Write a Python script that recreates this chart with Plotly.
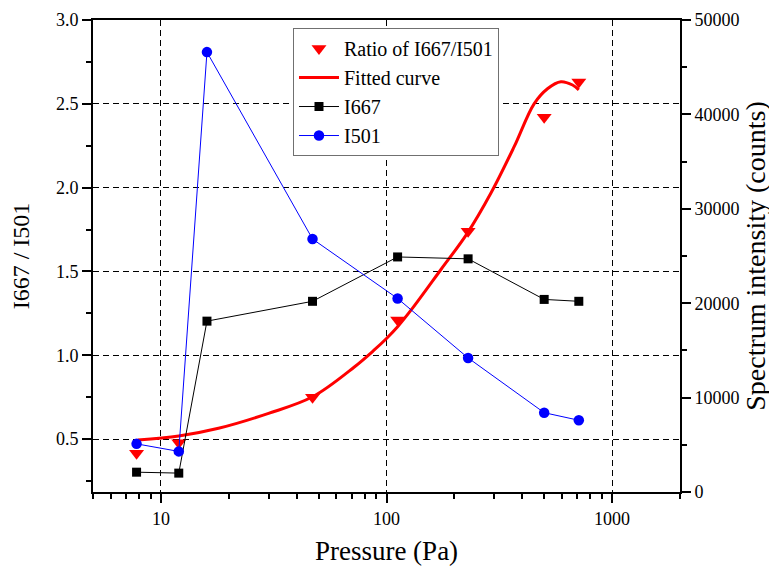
import math
import plotly.graph_objects as go

# Data
pressure = [7.8, 12, 16, 47, 112, 230, 500, 712]
i667 = [2100, 2000, 18100, 20200, 24900, 24700, 20400, 20200]
i501 = [5100, 4300, 46600, 26800, 20500, 14200, 8400, 7600]

ratio_pressure = [7.8, 12, 47, 112, 230, 500, 712]
ratio_values = [0.415, 0.478, 0.75, 1.21, 1.74, 2.42, 2.63]

fit_pressure = [7.9, 12, 18, 30, 47, 72, 88, 100, 112, 132, 174, 228, 290, 368, 451, 517, 593, 668, 712]
fit_values = [0.494, 0.518, 0.564, 0.653, 0.752, 0.93, 1.03, 1.10, 1.17, 1.29, 1.51, 1.727, 1.966, 2.244, 2.50, 2.59, 2.632, 2.612, 2.583]

x_tickvals = [10, 100, 1000]
x_ticktext = ["10", "100", "1000"]

FONT = "Liberation Serif"

fig = go.Figure()

fig.add_trace(go.Scatter(
    x=ratio_pressure, y=ratio_values, mode="markers", name="Ratio of I667/I501",
    marker=dict(symbol="triangle-down", size=13, color="#ff0000"),
    yaxis="y",
))
fig.add_trace(go.Scatter(
    x=fit_pressure, y=fit_values, mode="lines", name="Fitted curve",
    line=dict(color="#ff0000", width=3, shape="spline", smoothing=1.0),
    yaxis="y",
))
fig.add_trace(go.Scatter(
    x=pressure, y=i667, mode="lines+markers", name="I667",
    line=dict(color="#000000", width=1),
    marker=dict(symbol="square", size=9, color="#000000"),
    yaxis="y2",
))
fig.add_trace(go.Scatter(
    x=pressure, y=i501, mode="lines+markers", name="I501",
    line=dict(color="#0000ff", width=1),
    marker=dict(symbol="circle", size=10.5, color="#0000ff"),
    yaxis="y2",
))

# page body adds an 8px offset, so the figure is placed accordingly
fig.update_layout(
    width=769, height=559,
    margin=dict(l=85, r=97, t=12, b=75, pad=0, autoexpand=False),
    paper_bgcolor="white", plot_bgcolor="white",
    font=dict(family=FONT, size=18, color="black"),
    showlegend=True,
    legend=dict(
        x=0.3407, y=0.983, xanchor="left", yanchor="top",
        bgcolor="white", bordercolor="#707070", borderwidth=1,
        font=dict(family=FONT, size=20, color="black"),
        tracegroupgap=0, itemwidth=40,
    ),
    xaxis=dict(
        type="log", range=[math.log10(5), math.log10(2000)],
        automargin=False,
        tickmode="array", tickvals=x_tickvals, ticktext=x_ticktext,
        ticks="outside", ticklen=9, tickwidth=2, tickcolor="black",
        showline=True, linecolor="black", linewidth=2, mirror=True,
        showgrid=True, gridcolor="black", gridwidth=1, griddash="6px,4px",
        zeroline=False,
        minor=dict(ticks="outside", ticklen=5, tickwidth=2, tickcolor="black",
                   dtick="D1", showgrid=False),
        title=dict(text="Pressure (Pa)", font=dict(family=FONT, size=27), standoff=14),
        tickfont=dict(family=FONT, size=18),
    ),
    yaxis=dict(
        range=[0.184, 3.0], automargin=False,
        tick0=0, dtick=0.5, tickformat=".1f",
        ticks="outside", ticklen=9, tickwidth=2, tickcolor="black",
        showline=True, linecolor="black", linewidth=2,
        showgrid=True, gridcolor="black", gridwidth=1, griddash="6px,4px",
        zeroline=False,
        minor=dict(ticks="outside", ticklen=5, tickwidth=2, tickcolor="black",
                   dtick=0.25, tick0=0, showgrid=False),
        title=dict(text="I667 / I501", font=dict(family=FONT, size=24), standoff=20),
        tickfont=dict(family=FONT, size=18),
    ),
    yaxis2=dict(
        overlaying="y", side="right", anchor="x", automargin=False,
        range=[0, 50000], tick0=0, dtick=10000, tickformat="d",
        ticks="outside", ticklen=9, tickwidth=2, tickcolor="black",
        showline=True, linecolor="black", linewidth=2,
        showgrid=False, zeroline=False,
        minor=dict(ticks="outside", ticklen=5, tickwidth=2, tickcolor="black",
                   dtick=5000, tick0=0, showgrid=False),
        title=dict(text="Spectrum intensity (counts)", font=dict(family=FONT, size=28), standoff=7),
        tickfont=dict(family=FONT, size=18),
    ),
)

fig.write_html("out.html")
